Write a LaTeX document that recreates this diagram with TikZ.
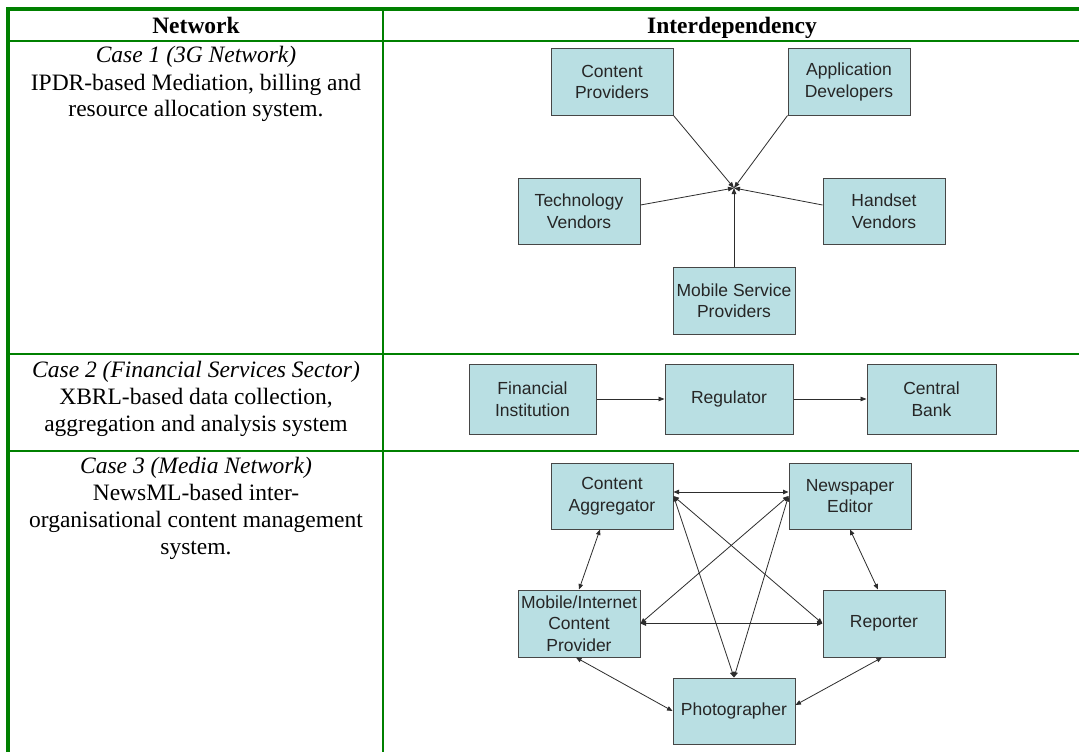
\documentclass[tikz,border=0pt]{standalone}
\usepackage{fontspec}
\setmainfont{Liberation Serif}
\newfontfamily\boxfont{Liberation Sans}
\usetikzlibrary{arrows.meta}
\definecolor{rulegreen}{RGB}{0,128,0}
\definecolor{boxfill}{RGB}{185,223,227}
\definecolor{boxline}{RGB}{70,70,70}
\definecolor{linkgray}{RGB}{45,45,45}
\begin{document}
\begin{tikzpicture}[x=1pt,y=-1pt,
  actor/.style={draw=boxline, line width=1pt, fill=boxfill, minimum width=122pt,
    minimum height=66pt, inner sep=0pt, align=center,
    font=\boxfont\fontsize{17.5}{21.5}\selectfont, text=black!85},
  cell/.style={anchor=base, inner sep=0pt, font=\fontsize{23.5}{27}\selectfont},
  link/.style={draw=linkgray, line width=0.8pt},
  tip/.style={-{Triangle[length=6pt,width=4.5pt]}},
  both/.style={{Triangle[length=5.5pt,width=4.5pt]}-{Triangle[length=5.5pt,width=4.5pt]}},
  outer/.style={draw=rulegreen, line width=4pt},
  inner/.style={draw=rulegreen, line width=2pt}]
\useasboundingbox (0,0) rectangle (1079,752);
\fill[white] (0,0) rectangle (1079,752);

% table rules
\draw[inner] (8,41) -- (1079,41);
\draw[inner] (8,353.5) -- (1079,353.5);
\draw[inner] (8,451) -- (1079,451);
\draw[inner] (382.5,9) -- (382.5,752);
\draw[outer] (8,752) -- (8,9) -- (1079,9);

% header
\node[cell, font=\bfseries\fontsize{23.5}{27}\selectfont] (hnet) at (196,34) {Network};
\node[cell, font=\bfseries\fontsize{23.5}{27}\selectfont] (hint) at (732,34) {Interdependency};

% first column texts
\node[cell] (c1a) at (196,63) {\itshape Case 1 (3G Network)};
\node[cell] (c1b) at (196,90) {IPDR-based Mediation, billing and};
\node[cell] (c1c) at (196,117) {resource allocation system.};

\node[cell] (c2a) at (196,377) {\itshape Case 2 (Financial Services Sector)};
\node[cell] (c2b) at (196,404) {XBRL-based data collection,};
\node[cell] (c2c) at (196,431) {aggregation and analysis system};

\node[cell] (c3a) at (196,473) {\itshape Case 3 (Media Network)};
\node[cell] (c3b) at (196,500) {NewsML-based inter-};
\node[cell] (c3c) at (196,527) {organisational content management};
\node[cell] (c3d) at (196,554) {system.};

% case 1: 3G network
\node[actor] (cp)  at (612,82)    {Content\\Providers};
\node[actor] (ad)  at (849,82)    {Application\\Developers};
\node[actor] (tv)  at (579,211)   {Technology\\Vendors};
\node[actor] (hv)  at (884,211)   {Handset\\Vendors};
\node[actor, minimum height=67pt] (msp) at (734,300.5) {Mobile Service\\Providers};
\coordinate (hub) at (734,188);
\draw[link, tip] (cp.south east) -- (hub);
\draw[link, tip] (ad.south west) -- (hub);
\draw[link, tip] ([yshift=6pt]tv.east) -- (hub);
\draw[link, tip] ([yshift=6pt]hv.west) -- (hub);
\draw[link, tip] (msp.north) -- (hub);

% case 2: financial services
\node[actor, minimum width=127pt, minimum height=70pt] (fi)  at (532.5,399) {Financial\\Institution};
\node[actor, minimum width=128pt, minimum height=70pt] (reg) at (729,399)   {Regulator};
\node[actor, minimum width=129pt, minimum height=70pt] (cb)  at (931.5,399) {Central\\Bank};
\draw[link, tip] (fi) -- (reg);
\draw[link, tip] (reg) -- (cb);

% case 3: media network
\node[actor] (ca)  at (612,496)   {Content\\Aggregator};
\node[actor] (ne)  at (850,496)   {Newspaper\\Editor};
\node[actor, minimum height=67pt] (mi)  at (579,623.5) {Mobile/Internet\\Content\\Provider};
\node[actor, minimum height=67pt] (rep) at (884,623.5) {Reporter};
\node[actor] (ph)  at (734,711)   {Photographer};

\draw[link, both] ([yshift=4pt]ca.east) -- ([yshift=4pt]ne.west);
\draw[link, both] (ca.east) -- (rep.west);
\draw[link, both] (ca.east) -- (ph.north);
\draw[link, both] (ne.west) -- (mi.east);
\draw[link, both] (ne.west) -- (ph.north);
\draw[link, both] (mi.east) -- (rep.west);
\draw[link, both] ([xshift=-12pt]ca.south) -- (mi.north);
\draw[link, both] (ne.south) -- ([xshift=-6pt]rep.north);
\draw[link, both] ([xshift=-3pt]mi.south) -- (ph.west);
\draw[link, both] ([xshift=-2pt]rep.south) -- ([yshift=6pt]ph.east);
\end{tikzpicture}
\end{document}
